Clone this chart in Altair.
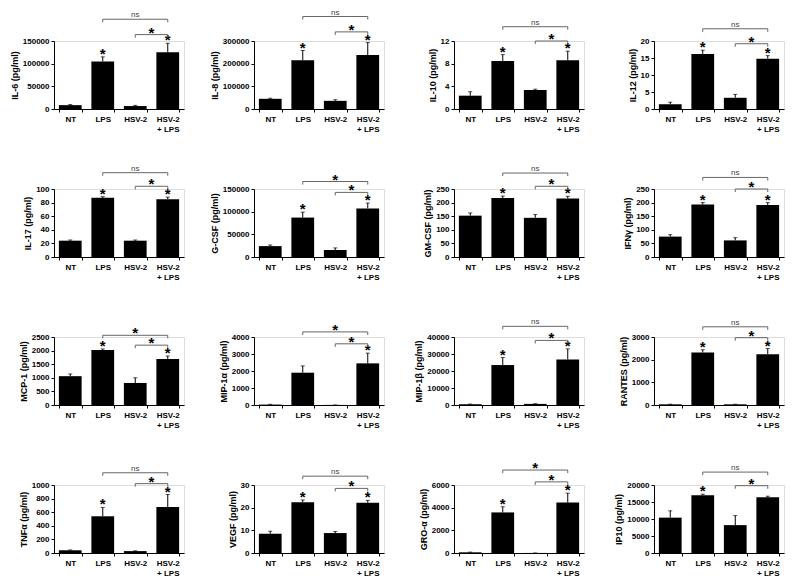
import altair as alt
import pandas as pd

CATEGORIES = ["NT", "LPS", "HSV-2", "HSV-2|+ LPS"]

Y_TITLES = [
    "IL-6 (pg/ml)", "IL-8 (pg/ml)", "IL-10 (pg/ml)", "IL-12 (pg/ml)",
    "IL-17 (pg/ml)", "G-CSF (pg/ml)", "GM-CSF (pg/ml)", "IFNγ (pg/ml)",
    "MCP-1 (pg/ml)", "MIP-1α (pg/ml)", "MIP-1β (pg/ml)", "RANTES (pg/ml)",
    "TNFα (pg/ml)", "VEGF (pg/ml)", "GRO-α (pg/ml)", "IP10 (pg/ml)",
]

MEANS = [
    [8500, 105000, 6500, 125000],
    [45000, 215000, 36000, 238000],
    [2.35, 8.45, 3.35, 8.6],
    [1.4, 16.2, 3.3, 14.8],
    [24, 87, 24, 85],
    [24000, 87000, 15500, 107000],
    [152, 217, 144, 215],
    [75, 193, 61, 191],
    [1060, 2020, 810, 1690],
    [25, 1900, 5, 2450],
    [450, 23500, 650, 26800],
    [30, 2320, 30, 2240],
    [40, 540, 28, 675],
    [8.5, 22.4, 8.8, 22.2],
    [60, 3580, 5, 4450],
    [10400, 17000, 8200, 16400],
]

ERRORS = [
    [1300, 10000, 1500, 20000],
    [2500, 43000, 5000, 55000],
    [0.7, 1.15, 0.15, 1.6],
    [0.6, 1.1, 1.0, 0.9],
    [1, 1.7, 1, 3],
    [2500, 12000, 4500, 12000],
    [10, 7, 12, 8],
    [7, 7, 10, 9],
    [80, 40, 190, 110],
    [15, 400, 0, 600],
    [100, 4400, 100, 6200],
    [5, 120, 5, 250],
    [5, 130, 4, 185],
    [1.1, 1.0, 0.7, 1.0],
    [20, 500, 0, 830],
    [2000, 300, 2800, 300],
]

BAR_STARS = [
    [0, 1, 0, 1], [0, 1, 0, 1], [0, 1, 0, 1], [0, 1, 0, 1],
    [0, 1, 0, 1], [0, 1, 0, 1], [0, 1, 0, 1], [0, 1, 0, 1],
    [0, 1, 0, 1], [0, 0, 0, 1], [0, 1, 0, 1], [0, 1, 0, 1],
    [0, 1, 0, 1], [0, 1, 0, 1], [0, 1, 0, 1], [0, 1, 0, 0],
]

TOP_LABELS = [
    "ns", "ns", "ns", "ns",
    "ns", "*", "ns", "ns",
    "*", "*", "ns", "ns",
    "ns", "ns", "*", "ns",
]

TOP_LEVELS = [1.32, 1.36, 1.21, 1.18, 1.24, 1.11, 1.235, 1.17,
              1.025, 1.075, 1.157, 1.15, 1.18, 1.13, 1.22, 1.19]
LOW_LEVELS = [1.094, 1.134, 1.0, 0.96, 1.04, 0.95, 1.04, 1.0,
              0.88, 0.90, 0.95, 0.99, 1.02, 0.95, 1.046, 0.99]

Y_MAX = [150000, 300000, 12, 20, 100, 150000, 250, 250,
         2500, 4000, 40000, 3000, 1000, 30, 6000, 20000]
Y_STEP = [50000, 100000, 4, 5, 20, 50000, 50, 50,
          500, 1000, 10000, 1000, 200, 10, 2000, 5000]

W, H = 130, 68
STEP = W / 4
FONT = "Liberation Sans"


def panel(i):
    ymax = Y_MAX[i]
    upper = [m + e for m, e in zip(MEANS[i], ERRORS[i])]
    bars = pd.DataFrame({
        "cat": CATEGORIES,
        "mean": MEANS[i],
        "upper": upper,
        "star": ["*" if s else "" for s in BAR_STARS[i]],
    })
    hook = 0.045 * ymax
    t = TOP_LEVELS[i] * ymax
    l = LOW_LEVELS[i] * ymax
    c = CATEGORIES
    br = pd.DataFrame({
        "b": [0] * 4 + [1] * 4,
        "cat": [c[1], c[1], c[3], c[3], c[2], c[2], c[3], c[3]],
        "y": [t - hook, t, t, t - hook, l - hook, l, l, l - hook],
        "o": [0, 1, 2, 3] * 2,
    })
    top_lab = pd.DataFrame({"cat": [c[2]], "y": [t], "text": [TOP_LABELS[i]]})
    low_lab = pd.DataFrame({"cat": [c[3]], "y": [l], "text": ["*"]})

    xs = alt.Scale(domain=CATEGORIES, paddingInner=0.3, paddingOuter=0.15)
    ys = alt.Scale(domain=[0, ymax], nice=False, zero=True)

    x_axis = alt.Axis(
        title=None, labelAngle=0, labelExpr="split(datum.label, '|')",
        tickBand="extent", tickSize=3, labelFontSize=8, labelFontWeight="bold",
        labelPadding=3, labelLineHeight=10, labelColor="black",
        domainColor="black", tickColor="black", grid=False,
    )
    y_axis = alt.Axis(
        title=Y_TITLES[i], values=list(range(0, ymax + 1, Y_STEP[i])), format="d",
        tickSize=3, labelFontSize=8, labelFontWeight="bold", labelColor="black",
        labelPadding=2, titleFontSize=9, titleFontWeight="bold", titleColor="black",
        titlePadding=3, domainColor="black", tickColor="black", grid=False,
    )

    X = alt.X("cat:N", scale=xs, axis=x_axis, sort=CATEGORIES)

    def Y(field):
        return alt.Y(field, scale=ys, axis=y_axis)

    bar = alt.Chart(bars).mark_bar(color="black").encode(x=X, y=Y("mean:Q"))
    err = alt.Chart(bars).mark_rule(color="black", strokeWidth=1).encode(
        x=X, y=Y("mean:Q"), y2="upper:Q",
    )
    cap = alt.Chart(bars).mark_tick(color="black", size=4, thickness=1).encode(
        x=X, y=Y("upper:Q"),
    )
    stars = alt.Chart(bars).mark_text(
        fontSize=15, fontWeight="bold", baseline="alphabetic", dy=2, color="black", font=FONT
    ).encode(x=X, y=Y("upper:Q"), text="star:N")
    brackets = alt.Chart(br).mark_line(color="#666", strokeWidth=1).encode(
        x=X, y=Y("y:Q"), detail="b:N", order="o:Q",
    )
    if TOP_LABELS[i] == "ns":
        top_mark = alt.Chart(top_lab).mark_text(
            fontSize=8, baseline="alphabetic", dy=-2, color="#444", font=FONT
        )
    else:
        top_mark = alt.Chart(top_lab).mark_text(
            fontSize=15, fontWeight="bold", baseline="alphabetic", dy=3, color="black", font=FONT
        )
    top_text = top_mark.encode(x=X, y=Y("y:Q"), text="text:N")
    low_text = alt.Chart(low_lab).mark_text(
        fontSize=15, fontWeight="bold", baseline="alphabetic", dy=3, dx=-STEP / 2,
        color="black", font=FONT
    ).encode(x=X, y=Y("y:Q"), text="text:N")
    return alt.layer(bar, err, cap, stars, brackets, top_text, low_text).properties(
        width=W, height=H
    )


chart = alt.concat(
    *[panel(i) for i in range(16)],
    columns=4,
    spacing={"row": 80, "column": 70},
    bounds="flush",
).properties(
    padding={"left": 1, "top": 0, "right": 1, "bottom": 1}
).configure_view(strokeOpacity=0, strokeWidth=0).configure(font=FONT)

chart.save("out.html", embed_options={"renderer": "svg", "actions": False})
